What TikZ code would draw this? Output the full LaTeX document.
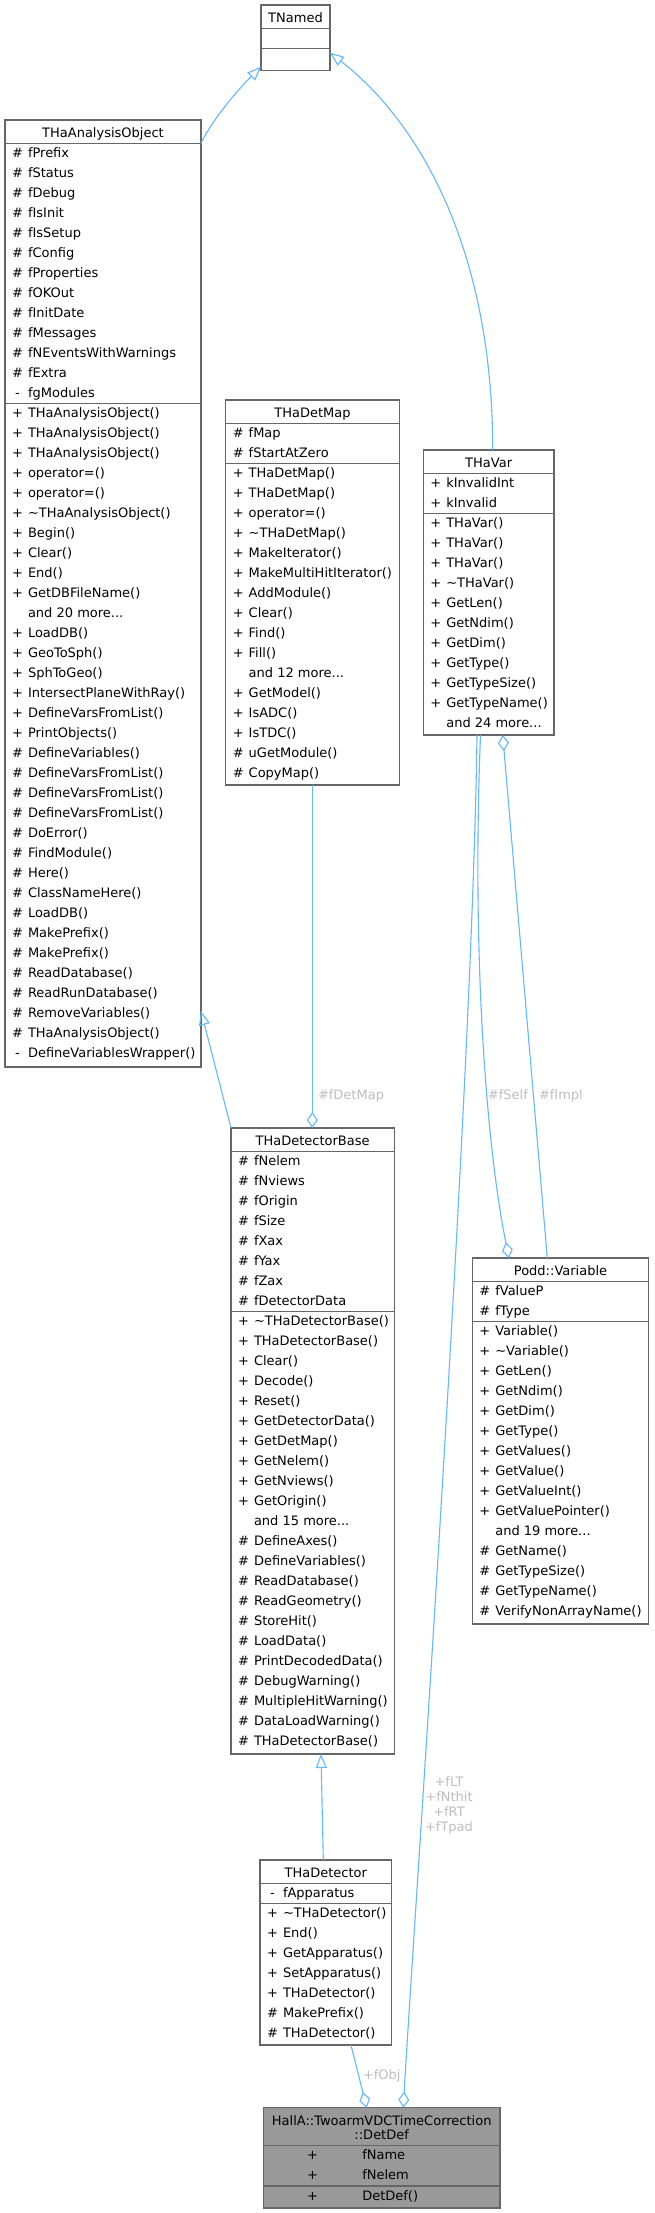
\documentclass[tikz,border=0pt]{standalone}
\usepackage{fontspec}
\setmainfont{DejaVu Sans}
\usetikzlibrary{arrows.meta,calc}
\definecolor{edgeblue}{HTML}{63B8FF}
\definecolor{boxgray}{HTML}{666666}
\definecolor{lblgray}{HTML}{BEBEBE}
\definecolor{hlfill}{HTML}{999999}
\newcommand\ddd{...}
\newcommand\tld{\textasciitilde}
\tikzset{
  classbox/.style={draw=boxgray, line width=1.1pt, inner sep=0pt, outer sep=0pt, rectangle},
  divider/.style={draw=boxgray, line width=1.1pt},
  rowtxt/.style={inner sep=0pt, outer sep=0pt},
  lbl/.style={text=lblgray, inner sep=0pt, outer sep=0pt, text height=9.5pt, text depth=2.7pt},
  lblmulti/.style={text=lblgray, inner sep=0pt, outer sep=0pt, align=center},
  inherit/.style={draw=edgeblue, line width=1.1pt, -{Triangle[open, length=14pt, width=11pt]}},
  aggreg/.style={draw=edgeblue, line width=1.1pt, -{Diamond[open, length=16pt, width=11pt]}}
}
% #1 id, #2 L, #3 T, #4 R, #5 B, #6 title, #7 number of attributes, #8 attributes, #9 methods
\newcommand\umlbox[9]{%
  \pgfmathsetmacro\bw{#4-#2}%
  \pgfmathsetmacro\bh{#5-#3}%
  \pgfmathsetmacro\ya{#3+23.3}%
  \pgfmathsetmacro\dy{23.3+20*#7}%
  \pgfmathsetmacro\ym{#3+23.3+20*#7}%
  \node[classbox, fill=white, minimum width=\bw pt, minimum height=\bh pt, anchor=north west] (#1) at (#2,#3) {};
  \node[rowtxt, anchor=base] (#1-title) at ({(#2+#4)/2},#3+17.3) {#6};
  \draw[divider] ([yshift=-23.3pt]#1.north west) -- ([yshift=-23.3pt]#1.north east);
  \draw[divider] ([yshift=-\dy pt]#1.north west) -- ([yshift=-\dy pt]#1.north east);
  \foreach \sy/\tx [count=\i from 0] in {#8} {
    \node[rowtxt, anchor=base] (#1-a\i-s) at (#2+12.5, \ya+20*\i+14) {\sy};
    \node[rowtxt, anchor=base west] (#1-a\i-n) at (#2+23, \ya+20*\i+14) {\tx};
  }
  \foreach \sy/\tx [count=\i from 0] in {#9} {
    \node[rowtxt, anchor=base] (#1-m\i-s) at (#2+12.5, \ym+20*\i+14) {\sy};
    \node[rowtxt, anchor=base west] (#1-m\i-n) at (#2+23, \ym+20*\i+14) {\tx};
  }
}
\begin{document}
\begin{tikzpicture}[x=1pt, y=-1pt, font=\fontsize{13}{15}\selectfont]
\fill[white] (0,0) rectangle (654,2213);
\useasboundingbox (0,0) rectangle (654,2213);

% TNamed
\node[classbox, fill=white, minimum width=69pt, minimum height=65.3pt, anchor=north west] (tn) at (261,5) {};
\node[rowtxt, anchor=base] (tn-title) at (295.5,22.3) {TNamed};
\draw[divider] ([yshift=-23.3pt]tn.north west) -- ([yshift=-23.3pt]tn.north east);
\draw[divider] ([yshift=-43.7pt]tn.north west) -- ([yshift=-43.7pt]tn.north east);

\umlbox{tha}{5}{120}{201}{1067}{THaAnalysisObject}{13}{\#/fPrefix, \#/fStatus, \#/fDebug, \#/fIsInit, \#/fIsSetup, \#/fConfig, \#/fProperties, \#/fOKOut, \#/fInitDate, \#/fMessages, \#/fNEventsWithWarnings, \#/fExtra, -/fgModules}{+/THaAnalysisObject(), +/THaAnalysisObject(), +/THaAnalysisObject(), +/operator=(), +/operator=(), +/\tld THaAnalysisObject(), +/Begin(), +/Clear(), +/End(), +/GetDBFileName(), {}/and 20 more\ddd, +/LoadDB(), +/GeoToSph(), +/SphToGeo(), +/IntersectPlaneWithRay(), +/DefineVarsFromList(), +/PrintObjects(), \#/DefineVariables(), \#/DefineVarsFromList(), \#/DefineVarsFromList(), \#/DefineVarsFromList(), \#/DoError(), \#/FindModule(), \#/Here(), \#/ClassNameHere(), \#/LoadDB(), \#/MakePrefix(), \#/MakePrefix(), \#/ReadDatabase(), \#/ReadRunDatabase(), \#/RemoveVariables(), \#/THaAnalysisObject(), -/DefineVariablesWrapper()}

\umlbox{tdm}{225.7}{400}{399.3}{785}{THaDetMap}{2}{\#/fMap, \#/fStartAtZero}{+/THaDetMap(), +/THaDetMap(), +/operator=(), +/\tld THaDetMap(), +/MakeIterator(), +/MakeMultiHitIterator(), +/AddModule(), +/Clear(), +/Find(), +/Fill(), {}/and 12 more\ddd, +/GetModel(), +/IsADC(), +/IsTDC(), \#/uGetModule(), \#/CopyMap()}

\umlbox{thv}{423.3}{450}{554}{735}{THaVar}{2}{+/kInvalidInt, +/kInvalid}{+/THaVar(), +/THaVar(), +/THaVar(), +/\tld THaVar(), +/GetLen(), +/GetNdim(), +/GetDim(), +/GetType(), +/GetTypeSize(), +/GetTypeName(), {}/and 24 more\ddd}

\umlbox{tdb}{231}{1128}{394.3}{1754}{THaDetectorBase}{8}{\#/fNelem, \#/fNviews, \#/fOrigin, \#/fSize, \#/fXax, \#/fYax, \#/fZax, \#/fDetectorData}{+/\tld THaDetectorBase(), +/THaDetectorBase(), +/Clear(), +/Decode(), +/Reset(), +/GetDetectorData(), +/GetDetMap(), +/GetNelem(), +/GetNviews(), +/GetOrigin(), {}/and 15 more\ddd, \#/DefineAxes(), \#/DefineVariables(), \#/ReadDatabase(), \#/ReadGeometry(), \#/StoreHit(), \#/LoadData(), \#/PrintDecodedData(), \#/DebugWarning(), \#/MultipleHitWarning(), \#/DataLoadWarning(), \#/THaDetectorBase()}

\umlbox{pv}{472.3}{1258}{648.7}{1624}{Podd::Variable}{2}{\#/fValueP, \#/fType}{+/Variable(), +/\tld Variable(), +/GetLen(), +/GetNdim(), +/GetDim(), +/GetType(), +/GetValues(), +/GetValue(), +/GetValueInt(), +/GetValuePointer(), {}/and 19 more\ddd, \#/GetName(), \#/GetTypeSize(), \#/GetTypeName(), \#/VerifyNonArrayName()}

\umlbox{td}{260}{1860}{391.7}{2045}{THaDetector}{1}{-/fApparatus}{+/\tld THaDetector(), +/End(), +/GetApparatus(), +/SetApparatus(), +/THaDetector(), \#/MakePrefix(), \#/THaDetector()}

% DetDef (highlighted)
\node[classbox, fill=hlfill, minimum width=236.7pt, minimum height=100.3pt, anchor=north west] (dd) at (263.3,2107.7) {};
\node[rowtxt, anchor=base] (dd-t1) at (381.7,2125.7) {HallA::TwoarmVDCTimeCorrection};
\node[rowtxt, anchor=base] (dd-t2) at (381.7,2139) {::DetDef};
\draw[divider] ([yshift=-38pt]dd.north west) -- ([yshift=-38pt]dd.north east);
\draw[divider] ([yshift=-78.3pt]dd.north west) -- ([yshift=-78.3pt]dd.north east);
\node[rowtxt, anchor=base] (dd-a0-s) at (312.5,2159.7) {+};
\node[rowtxt, anchor=base west] (dd-a0-n) at (362.3,2159.7) {fName};
\node[rowtxt, anchor=base] (dd-a1-s) at (312.5,2179.7) {+};
\node[rowtxt, anchor=base west] (dd-a1-n) at (362.3,2179.7) {fNelem};
\node[rowtxt, anchor=base] (dd-m0-s) at (312.5,2200) {+};
\node[rowtxt, anchor=base west] (dd-m0-n) at (362.3,2200) {DetDef()};

% connectors
\draw[inherit] ([yshift=-23.3pt]tha.north east) .. controls +(12,-25) and +(-22,22) .. ([yshift=3.6pt]tn.south west);
\draw[inherit] ([xshift=69.4pt]thv.north west) .. controls +(0,-200) and +(90,70) .. ([yshift=-47.7pt]tn.north east);
\draw[aggreg] ([xshift=86.6pt]tdm.south west) -- ([xshift=81.3pt]tdb.north west);
\draw[inherit] (tdb.north west) -- ([yshift=56pt]tha.south east);
\draw[inherit] ([xshift=63.3pt]td.north west) -- ([xshift=90pt]tdb.south west);
\draw[aggreg] ([xshift=57.2pt]thv.south west) .. controls +(-9,225) and +(-22,-108) .. ([xshift=36.7pt]pv.north west);
\draw[aggreg] ([xshift=75pt]pv.north west) -- ([xshift=79.4pt]thv.south west);
\draw[aggreg] ([xshift=53.7pt]thv.south west) .. controls +(-5,365) and +(8.7,-157.7) .. ([xshift=140pt]dd.north west);
\draw[aggreg] ([xshift=91pt]td.south west) -- ([xshift=103.4pt]dd.north west);

% labels
\node[lbl, anchor=west] (l-detmap) at (318,1096) {\#fDetMap};
\node[lbl, anchor=west] (l-self) at (488,1096) {\#fSelf};
\node[lbl, anchor=west] (l-impl) at (539,1096) {\#fImpl};
\node[lblmulti] (l-flt) at (449,1805) {+fLT\\+fNthit\\+fRT\\+fTpad};
\node[lbl, anchor=west] (l-obj) at (363,2076.4) {+fObj};
\end{tikzpicture}
\end{document}
